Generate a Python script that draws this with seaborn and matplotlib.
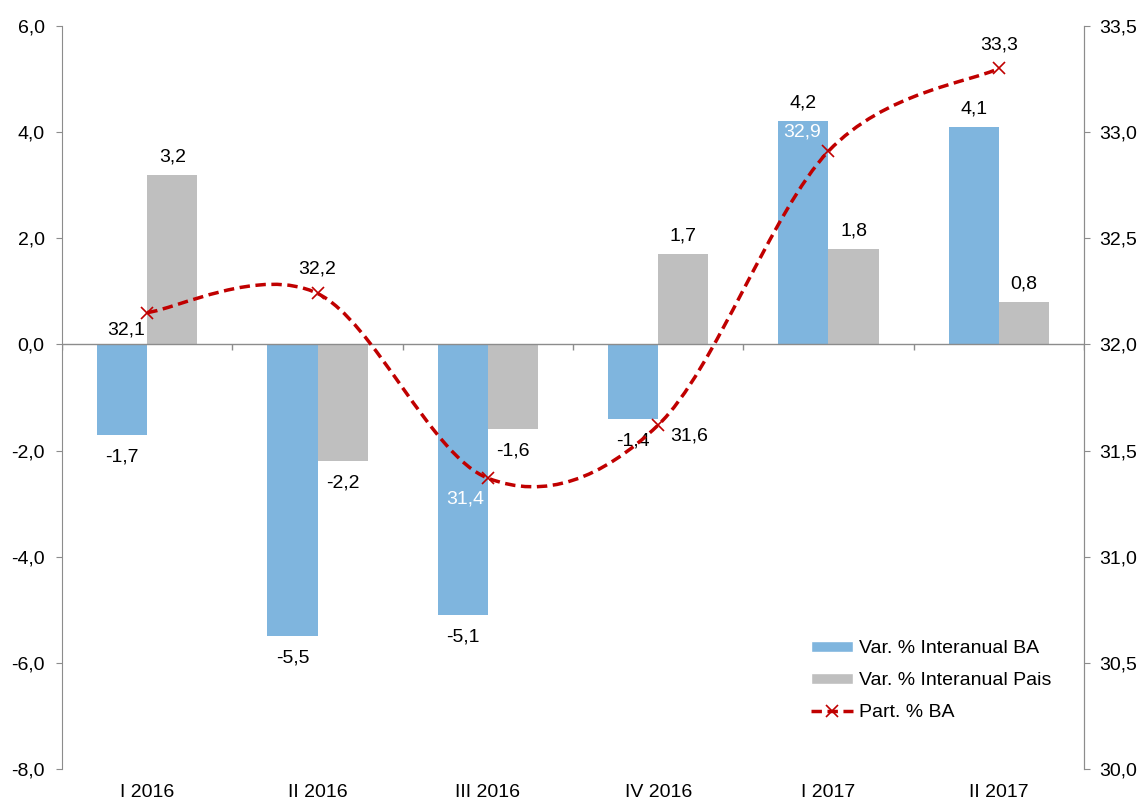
import numpy as np
import pandas as pd
import matplotlib
matplotlib.use("Agg")
import matplotlib.pyplot as plt
import seaborn as sns
from matplotlib.path import Path
from matplotlib.patches import PathPatch, Patch
from matplotlib.lines import Line2D
from matplotlib.ticker import FuncFormatter, MultipleLocator

# Data
quarters = ["I 2016", "II 2016", "III 2016", "IV 2016", "I 2017", "II 2017"]
var_ba = [-1.7, -5.5, -5.1, -1.4, 4.2, 4.1]
var_pais = [3.2, -2.2, -1.6, 1.7, 1.8, 0.8]
part_ba = [32.15, 32.24, 31.37, 31.62, 32.91, 33.30]
part_labels = ["32,1", "32,2", "31,4", "31,6", "32,9", "33,3"]

blue = "#7FB5DE"
grey = "#BFBFBF"
red = "#C00000"
axis_grey = "#8C8C8C"

sns.set_style("white")
plt.rcParams["font.family"] = ["Liberation Sans", "DejaVu Sans"]
# seaborn uses dark grey text, the original is plain black
plt.rcParams["text.color"] = "black"
plt.rcParams["xtick.labelcolor"] = "black"
plt.rcParams["ytick.labelcolor"] = "black"
fs = 14


def comma(v, pos=None):
    return f"{v:.1f}".replace(".", ",")


# long-form table for seaborn
df = pd.DataFrame({
    "quarter": quarters * 2,
    "value": var_ba + var_pais,
    "serie": ["Var. % Interanual BA"] * 6 + ["Var. % Interanual Pais"] * 6,
})

fig = plt.figure(figsize=(11.38, 8.01), dpi=100)
ax = fig.add_axes([0.0545, 0.04, 0.898, 0.9276])

sns.barplot(data=df, x="quarter", y="value", hue="serie", palette=[blue, grey],
            width=0.59, gap=0, saturation=1, linewidth=0, legend=False, ax=ax)

# bar value labels, above positive bars and below negative ones
for cont, vals in zip(ax.containers, [var_ba, var_pais]):
    for rect, v in zip(cont.patches, vals):
        xc = rect.get_x() + rect.get_width() / 2
        off = 18 if v >= 0 else -22
        ax.annotate(comma(v), (xc, v), xytext=(0, off), textcoords="offset pixels",
                    ha="center", va="center", fontsize=fs)

ax.set_xlim(-0.5, 5.5)
ax.set_ylim(-8, 6)
ax.yaxis.set_major_locator(MultipleLocator(2))
ax.yaxis.set_major_formatter(FuncFormatter(comma))
ax.set_xlabel("")
ax.set_ylabel("")

# zero line with category separators
ax.axhline(0, color=axis_grey, lw=1, zorder=3)
ax.vlines(np.arange(-0.5, 6), -0.1, 0, color=axis_grey, lw=1, zorder=3)

for s in ["top", "bottom"]:
    ax.spines[s].set_visible(False)
for s in ["left", "right"]:
    ax.spines[s].set_color(axis_grey)
ax.tick_params(axis="y", which="major", direction="out", length=4, color=axis_grey,
               labelsize=fs, left=True, pad=8.5)
ax.tick_params(axis="x", length=0, labelsize=fs, pad=11)

# right axis: participation line
ax2 = ax.twinx()
ax2.set_ylim(30, 33.5)
ax2.yaxis.set_major_locator(MultipleLocator(0.5))
ax2.yaxis.set_major_formatter(FuncFormatter(comma))
ax2.tick_params(axis="y", direction="out", length=4, color=axis_grey, labelsize=fs, pad=7)
for s in ["top", "bottom", "left"]:
    ax2.spines[s].set_visible(False)
ax2.spines["right"].set_color(axis_grey)

# smoothed line (Catmull-Rom style bezier through the points)
xs = np.arange(len(part_ba), dtype=float)
pts = np.column_stack([xs, part_ba])
ext = np.vstack([pts[0], pts, pts[-1]])
verts = [pts[0]]
codes = [Path.MOVETO]
for i in range(len(pts) - 1):
    p0, p1, p2, p3 = ext[i], ext[i + 1], ext[i + 2], ext[i + 3]
    verts += [p1 + (p2 - p0) / 6, p2 - (p3 - p1) / 6, p2]
    codes += [Path.CURVE4] * 3
dash = (0, (3, 1.6))
curve = PathPatch(Path(verts, codes), facecolor="none", edgecolor=red, lw=2.5,
                  linestyle=dash, zorder=4)
ax2.add_patch(curve)
ax2.plot(xs, part_ba, linestyle="none", marker="x", color=red, markersize=9,
         markeredgewidth=1.2, zorder=5)

offsets = [(-21, -17), (0, 24), (-23, -21), (31, -11), (-26, 19), (0, 23)]
colors = ["black", "black", "white", "black", "white", "black"]
for x, y, lab, off, c in zip(xs, part_ba, part_labels, offsets, colors):
    ax2.annotate(lab, (x, y), xytext=off, textcoords="offset pixels",
                 ha="center", va="center", fontsize=fs, color=c, zorder=6)

handles = [
    Patch(facecolor=blue, label="Var. % Interanual BA"),
    Patch(facecolor=grey, label="Var. % Interanual Pais"),
    Line2D([0], [0], color=red, lw=2.5, linestyle=dash, marker="x",
           markersize=9, markeredgewidth=1.2, label="Part. % BA"),
]
ax2.legend(handles=handles, loc="upper left", bbox_to_anchor=(811 / 1138, 1 - 640 / 801),
           bbox_transform=fig.transFigure, frameon=False, fontsize=fs,
           borderpad=0, borderaxespad=0, handlelength=2.15, handleheight=0.5,
           labelspacing=0.78, handletextpad=0.3)

fig.savefig("out.png", dpi=100)
